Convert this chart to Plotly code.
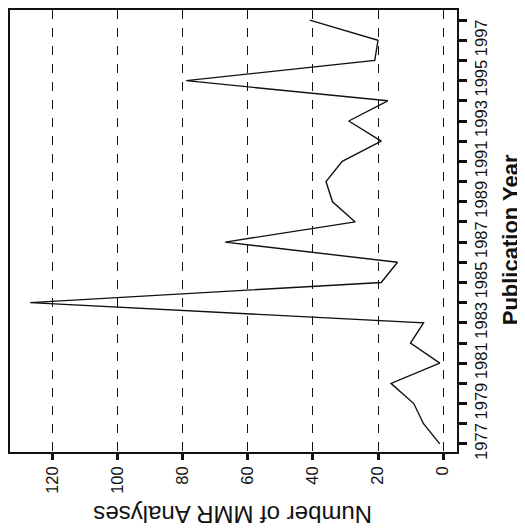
import plotly.graph_objects as go

years = [1977, 1978, 1979, 1980, 1981, 1982, 1983, 1984, 1985, 1986, 1987,
         1988, 1989, 1990, 1991, 1992, 1993, 1994, 1995, 1996, 1997, 1998]
analyses = [1, 6, 9, 16, 1, 10, 6, 127, 19, 14, 67,
            27, 34, 36, 31, 19, 29, 17, 79, 21, 20, 41]

count_ticks = [0, 20, 40, 60, 80, 100, 120]
year_ticks = [1977, 1979, 1981, 1983, 1985, 1987, 1989, 1991, 1993, 1995, 1997]

fig = go.Figure()
fig.add_trace(go.Scatter(
    x=analyses, y=years, mode="lines",
    line=dict(color="#111111", width=1.4),
    showlegend=False, hoverinfo="skip",
))

font_family = "Liberation Sans, Arial, sans-serif"

# the page body has an 8px default margin, so the figure is a bit smaller
fig.update_layout(
    width=517, height=524,
    margin=dict(l=2, r=68, t=0, b=80),
    paper_bgcolor="white", plot_bgcolor="white",
    font=dict(family=font_family, color="#111111"),
    xaxis=dict(
        range=[133.2, -4.3], autorange=False,
        tickvals=count_ticks, ticktext=[str(v) for v in count_ticks],
        tickangle=-90, tickfont=dict(size=16.5, color="#111111"),
        ticks="outside", ticklen=6, tickwidth=3, tickcolor="#111111",
        showgrid=True, gridcolor="#111111", gridwidth=1, griddash="dash",
        showline=True, linecolor="#111111", linewidth=1.5, mirror=True,
        zeroline=False,
    ),
    yaxis=dict(
        side="right",
        range=[1976.6, 1998.5], autorange=False,
        tickvals=year_ticks, ticktext=[str(v) for v in year_ticks],
        tickangle=-90, tickfont=dict(size=16.5, color="#111111"),
        ticks="outside", ticklen=8, tickwidth=3, tickcolor="#111111",
        minor=dict(tick0=1977, dtick=1, ticks="outside", ticklen=8,
                   tickwidth=3, tickcolor="#111111", showgrid=False),
        showgrid=False,
        showline=True, linecolor="#111111", linewidth=1.5, mirror=True,
        zeroline=False,
    ),
    annotations=[
        dict(text="Number of MMR Analyses", textangle=180,
             xref="paper", yref="paper", x=0.499, y=-0.1416,
             xanchor="center", yanchor="middle", showarrow=False,
             font=dict(size=24, family=font_family, color="#111111")),
        dict(text="<b>Publication Year</b>", textangle=-90,
             xref="paper", yref="paper", x=1.1186, y=0.479,
             xanchor="center", yanchor="middle", showarrow=False,
             font=dict(size=22, family=font_family, color="#111111")),
    ],
)

fig.write_html("out.html")
